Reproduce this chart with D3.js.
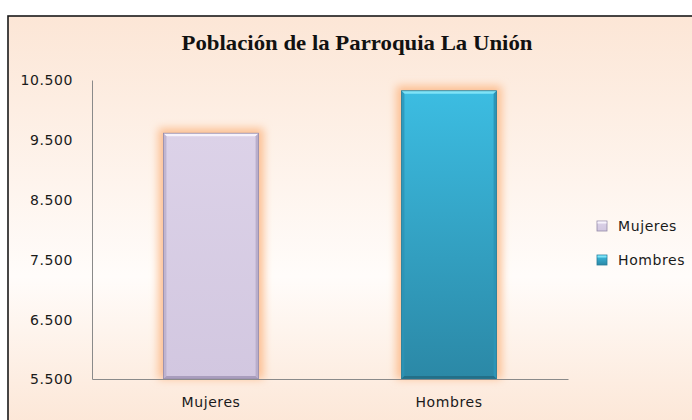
<!DOCTYPE html>
<html><head><meta charset="utf-8">
<script src="https://cdn.jsdelivr.net/npm/d3@7"></script>
<style>html,body{margin:0;padding:0;background:#fff;}svg{display:block;}</style>
</head><body>
<svg id="chart" width="692" height="420"></svg>
<script>
const title = "Población de la Parroquia La Unión";
const categories = ["Mujeres", "Hombres"];
const values = [9610, 10320];
const yTicks = [5500, 6500, 7500, 8500, 9500, 10500];
const yTickLabels = ["5.500", "6.500", "7.500", "8.500", "9.500", "10.500"];

const svg = d3.select("#chart");
const defs = svg.append("defs");

const bg = defs.append("linearGradient").attr("id","bg").attr("x1",0).attr("y1",0).attr("x2",0).attr("y2",1);
bg.append("stop").attr("offset","0%").attr("stop-color","#fce6d6");
bg.append("stop").attr("offset","62%").attr("stop-color","#fffcfa");
bg.append("stop").attr("offset","100%").attr("stop-color","#fce5d4");

const glow = defs.append("filter").attr("id","glow").attr("x","-30%").attr("y","-30%").attr("width","160%").attr("height","160%");
glow.append("feGaussianBlur").attr("stdDeviation",4);

const palette = [
  {top:"#dcd2e8", bot:"#d2c7e0", hi:"#f7f3fc", side:"#b9aecb", low:"#a99dbd", line:"#948aa8"},
  {top:"#3cbde2", bot:"#2b88a6", hi:"#7fe3f7", side:"#2c94b6", low:"#236f88", line:"#2a7d98"}
];
palette.forEach((p,i)=>{
  const g = defs.append("linearGradient").attr("id","bar"+i).attr("x1",0).attr("y1",0).attr("x2",0).attr("y2",1);
  g.append("stop").attr("offset","0%").attr("stop-color",p.top);
  g.append("stop").attr("offset","100%").attr("stop-color",p.bot);
});

// background with border
svg.append("rect").attr("x",8).attr("y",16).attr("width",700).attr("height",420)
  .attr("fill","url(#bg)").attr("stroke","#1a1a1a").attr("stroke-width",1.6);

svg.append("text").attr("x",357).attr("y",50).attr("text-anchor","middle")
  .attr("font-family","'Liberation Serif', 'Times New Roman', serif").attr("font-weight","bold")
  .attr("font-size",22).attr("fill","#111").attr("textLength",351).attr("lengthAdjust","spacingAndGlyphs")
  .text(title);

const x = d3.scaleBand().domain(categories).range([92,568]).paddingInner(0.6).paddingOuter(0.3);
const y = d3.scaleLinear().domain([5500,10500]).range([379,80]);

const font = "'DejaVu Sans', Verdana, sans-serif";

// y axis
const yAxis = d3.axisLeft(y).tickValues(yTicks).tickSize(0).tickPadding(19)
  .tickFormat((d,i)=>yTickLabels[i]);
const gy = svg.append("g").attr("transform","translate(92,0)").call(yAxis);
gy.select(".domain").attr("stroke","#8a8a8a").attr("stroke-width",1);
gy.selectAll("text").attr("font-family",font).attr("font-size",14).attr("fill","#1a1a1a")
  .attr("letter-spacing","0.6px").attr("dy","0.35em");

// bars
const bars = svg.append("g").selectAll("g").data(categories).join("g");
bars.each(function(c,i){
  const g = d3.select(this);
  const x0 = x(c), x1 = x(c)+x.bandwidth(), y0 = y(values[i]), y1 = y(5500);
  const p = palette[i], b = 3;
  g.append("rect").attr("x",x0-5).attr("y",y0-5).attr("width",x1-x0+10).attr("height",y1-y0+5)
    .attr("fill","#fcbf92").attr("opacity",1).attr("filter","url(#glow)");
  g.append("rect").attr("x",x0).attr("y",y0).attr("width",x1-x0).attr("height",y1-y0)
    .attr("fill","url(#bar"+i+")");
  const poly = pts => pts.map(q=>q.join(",")).join(" ");
  g.append("polygon").attr("points",poly([[x0,y0],[x1,y0],[x1-b,y0+b],[x0+b,y0+b]])).attr("fill",p.hi);
  g.append("polygon").attr("points",poly([[x0,y0],[x0+b,y0+b],[x0+b,y1-b],[x0,y1]])).attr("fill",p.side).attr("opacity",0.8);
  g.append("polygon").attr("points",poly([[x1,y0],[x1,y1],[x1-b,y1-b],[x1-b,y0+b]])).attr("fill",p.side);
  g.append("polygon").attr("points",poly([[x0,y1],[x0+b,y1-b],[x1-b,y1-b],[x1,y1]])).attr("fill",p.low);
  g.append("rect").attr("x",x0).attr("y",y0).attr("width",x1-x0).attr("height",y1-y0)
    .attr("fill","none").attr("stroke",p.line).attr("stroke-width",0.8);
});

// x axis
const xAxis = d3.axisBottom(x).tickSize(0).tickPadding(18);
const gx = svg.append("g").attr("transform","translate(0,379)").call(xAxis);
gx.select(".domain").attr("stroke","#8a8a8a").attr("stroke-width",1.2);
gx.selectAll("text").attr("font-family",font).attr("font-size",14).attr("fill","#1a1a1a").attr("letter-spacing","0.6px");

// legend
const leg = svg.append("g").attr("transform","translate(597,226)");
const li = leg.selectAll("g").data(categories).join("g").attr("transform",(d,i)=>`translate(0,${i*34})`);
li.append("rect").attr("x",0).attr("y",-5).attr("width",10).attr("height",10)
  .attr("fill",(d,i)=>"url(#bar"+i+")").attr("stroke",(d,i)=>palette[i].line).attr("stroke-width",0.8);
li.append("rect").attr("x",0.5).attr("y",-4.5).attr("width",9).attr("height",2)
  .attr("fill",(d,i)=>palette[i].hi);
li.append("text").attr("x",21).attr("y",0).attr("dy","0.35em").attr("font-family",font)
  .attr("font-size",14).attr("fill","#1a1a1a").attr("letter-spacing","0.6px").text(d=>d);
</script>
</body></html>
